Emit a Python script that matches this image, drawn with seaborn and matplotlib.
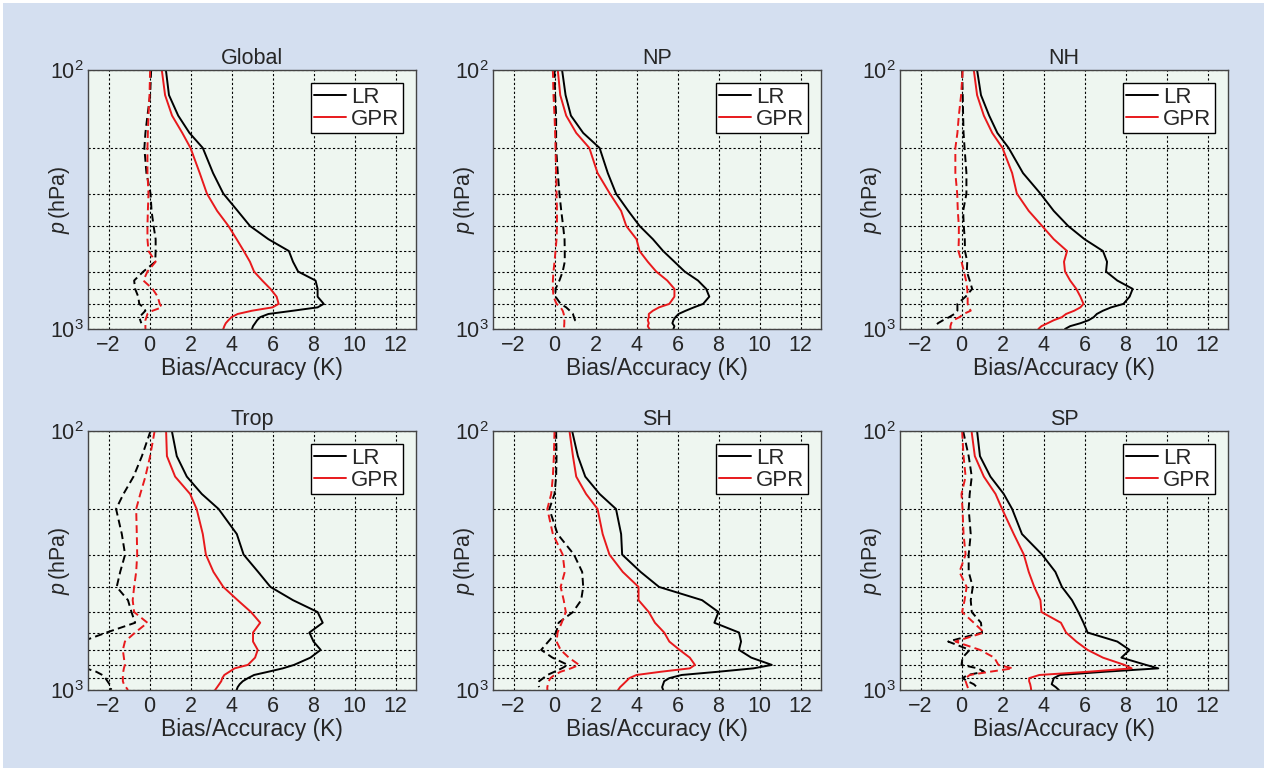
import numpy as np
import pandas as pd
import matplotlib
matplotlib.use("Agg")
import matplotlib.pyplot as plt
import seaborn as sns
from matplotlib.lines import Line2D
from matplotlib.patches import Rectangle
from matplotlib.ticker import FixedLocator, NullFormatter, LogFormatterSciNotation

nan = np.nan

# ---------------- data ----------------
pressure = [100, 125, 150, 175, 200, 250, 300, 350, 400, 450, 500, 550, 600,
            650, 700, 750, 800, 825, 850, 875, 900, 925, 950, 975, 1000]

panel_titles = ["Global", "NP", "NH", "Trop", "SH", "SP"]

global_lr_acc = [0.8, 0.95, 1.4, 1.95, 2.6, 3.1, 3.6, 4.3, 4.9, 5.8, 6.8, 7.0, 7.25,
                 8.1, 8.2, 8.2, 8.5, 8.2, 7.0, 5.8, 5.4, 5.25, 5.15, 5.05, 5.0]
global_gpr_acc = [0.6, 0.76, 1.1, 1.6, 2.0, 2.45, 2.8, 3.3, 3.85, 4.25, 4.6, 4.9, 5.1,
                  5.5, 5.9, 6.2, 6.3, 6.0, 5.0, 4.3, 4.0, 3.85, 3.72, 3.65, 3.6]
global_lr_bias = [0.08, 0.03, -0.1, -0.2, -0.25, -0.15, 0.05, 0.1, 0.2, 0.3, 0.3, 0.28, -0.3,
                  -0.75, -0.7, -0.55, -0.5, -0.3, -0.2, -0.35, -0.5, -0.45, -0.4, nan, nan]
global_gpr_bias = [0.03, 0.0, -0.05, -0.08, -0.1, -0.1, -0.05, -0.08, -0.1, -0.1, -0.05, 0.3, -0.1,
                   -0.3, 0.15, 0.4, 0.5, 0.6, 0.15, -0.1, -0.15, -0.2, -0.2, -0.2, -0.2]

np_lr_acc = [0.37, 0.54, 0.8, 1.4, 2.2, 2.6, 3.0, 3.6, 4.15, 4.8, 5.3, 5.85, 6.35,
             7.0, 7.4, 7.55, 7.25, 6.8, 6.4, 6.05, 5.9, 5.8, 5.75, 5.85, 5.8]
np_gpr_acc = [0.16, 0.28, 0.57, 1.06, 1.7, 2.1, 2.7, 3.25, 3.5, 4.0, 4.15, 4.55, 4.96,
              5.5, 5.85, 5.85, 5.6, 5.1, 4.8, 4.6, 4.6, 4.55, 4.6, 4.55, 4.63]
np_lr_bias = [0.0, 0.03, 0.08, 0.08, 0.08, 0.16, 0.24, 0.33, 0.42, 0.49, 0.5, 0.5, 0.4,
              0.24, 0.05, 0.05, 0.3, 0.57, 0.75, 0.9, 0.95, 1.0, 1.2, nan, nan]
np_gpr_bias = [-0.08, -0.05, 0.0, 0.03, 0.05, 0.08, 0.1, 0.12, 0.12, 0.1, 0.05, 0.0, -0.05,
               -0.08, -0.08, -0.05, 0.1, 0.3, 0.4, 0.45, 0.48, 0.48, 0.48, 0.47, 0.48]

nh_lr_acc = [0.76, 0.95, 1.35, 1.75, 2.3, 3.0, 3.85, 4.5, 5.2, 6.0, 6.9, 7.1, 7.05,
             7.6, 8.35, 8.2, 7.9, 7.3, 6.9, 6.6, 6.45, 6.2, 5.8, 5.3, 5.05]
nh_gpr_acc = [0.6, 0.76, 1.09, 1.5, 2.0, 2.47, 2.7, 3.28, 3.93, 4.5, 5.15, 5.0, 5.05,
              5.3, 5.6, 5.8, 5.95, 5.8, 5.5, 5.1, 4.9, 4.5, 4.2, 3.9, 3.75]
nh_lr_bias = [0.03, 0.06, 0.08, 0.1, 0.15, 0.24, 0.24, 0.08, 0.11, 0.16, 0.17, 0.28, 0.26,
              0.4, 0.52, 0.2, -0.2, -0.2, -0.2, -0.35, -0.6, -0.9, -1.15, -1.27, nan]
nh_gpr_bias = [0.06, -0.02, -0.13, -0.2, -0.3, -0.3, -0.21, -0.18, -0.13, -0.13, -0.15, 0.0, 0.12,
               0.22, 0.28, 0.3, 0.3, 0.36, 0.45, 0.1, -0.1, -0.4, -0.5, -0.54, -0.54]

trop_lr_acc = [1.09, 1.33, 1.82, 2.55, 3.37, 4.26, 4.59, 5.3, 5.9, 7.0, 8.2, 8.45, 7.8,
               8.0, 8.35, 7.85, 7.05, 6.5, 5.8, 5.1, 4.8, 4.55, 4.4, 4.3, 4.25]
trop_gpr_acc = [0.81, 0.85, 1.25, 1.98, 2.3, 2.6, 2.75, 3.12, 3.6, 4.3, 4.95, 5.4, 5.05,
                5.05, 5.28, 5.15, 4.8, 4.15, 3.9, 3.65, 3.55, 3.5, 3.4, 3.3, 3.2]
trop_lr_bias = [0.05, -0.37, -0.78, -1.27, -1.63, -1.35, -1.19, -1.43, -1.6, -1.05, -0.88, -0.7, -2.1,
                -3.3, -4.5, -4.5, -3.8, -3.1, -2.6, -2.3, -2.15, -2.05, -1.95, -1.85, -1.9]
trop_gpr_bias = [0.25, 0.03, -0.2, -0.45, -0.65, -0.62, -0.6, -0.65, -0.75, -0.82, -0.75, -0.1, -0.7,
                 -1.2, -1.3, -1.25, -1.2, -1.25, -1.28, -1.3, -1.3, -1.3, -1.25, -1.15, -1.05]

sh_lr_acc = [0.86, 1.14, 1.5, 2.2, 3.0, 3.25, 3.3, 4.2, 5.1, 7.2, 8.0, 7.8, 9.0,
             9.1, 9.0, 9.6, 10.6, 9.7, 8.0, 6.2, 5.6, 5.35, 5.3, 5.25, 5.3]
sh_gpr_acc = [0.73, 0.9, 1.06, 1.54, 2.1, 2.35, 2.68, 3.33, 4.1, 4.1, 4.6, 4.9, 5.35,
              5.6, 6.1, 6.6, 6.85, 6.6, 5.2, 4.0, 3.65, 3.5, 3.35, 3.2, 3.1]
sh_lr_bias = [0.08, 0.1, 0.08, 0.0, -0.25, 0.15, 0.95, 1.35, 1.4, 1.3, 0.9, 0.2, 0.08,
              -0.3, -0.65, -0.1, 0.65, 0.35, 0.0, -0.35, -0.55, -0.75, -0.8, -0.75, nan]
sh_gpr_bias = [0.0, -0.03, -0.08, -0.16, -0.35, -0.08, 0.4, 0.5, 0.3, 0.45, 0.55, 0.35, 0.15,
               0.1, 0.3, 0.7, 1.2, 0.8, 0.3, 0.0, -0.2, -0.28, -0.32, -0.35, -0.35]

sp_lr_acc = [0.76, 0.9, 1.41, 2.06, 2.47, 2.95, 3.93, 4.58, 4.9, 5.39, 5.7, 5.95, 6.15,
             7.6, 8.2, 7.8, 9.0, 9.6, 7.0, 4.8, 4.5, 4.45, 4.4, 4.6, 4.75]
sp_gpr_acc = [0.49, 0.65, 1.09, 1.66, 1.98, 2.55, 3.04, 3.28, 3.55, 3.85, 3.9, 4.85, 5.1,
              5.6, 6.15, 6.9, 7.95, 8.3, 6.2, 3.8, 3.3, 3.3, 3.35, 3.38, 3.4]
sp_lr_bias = [0.08, 0.35, 0.5, 0.4, 0.35, 0.45, 0.35, 0.35, 0.55, 0.45, 0.5, 0.95, 1.0,
              -0.65, 0.4, 0.05, 0.0, 0.8, 1.1, 0.3, 0.05, 0.3, 0.6, 0.75, nan]
sp_gpr_bias = [0.03, 0.1, 0.2, 0.0, 0.05, 0.1, 0.2, -0.1, 0.25, 0.15, 0.03, 0.6, 1.1,
               -0.3, 0.9, 1.6, 1.8, 2.5, 1.4, 0.4, 0.2, 0.2, 0.25, 0.3, 0.35]

panels = {
    "Global": (global_lr_acc, global_gpr_acc, global_lr_bias, global_gpr_bias),
    "NP": (np_lr_acc, np_gpr_acc, np_lr_bias, np_gpr_bias),
    "NH": (nh_lr_acc, nh_gpr_acc, nh_lr_bias, nh_gpr_bias),
    "Trop": (trop_lr_acc, trop_gpr_acc, trop_lr_bias, trop_gpr_bias),
    "SH": (sh_lr_acc, sh_gpr_acc, sh_lr_bias, sh_gpr_bias),
    "SP": (sp_lr_acc, sp_gpr_acc, sp_lr_bias, sp_gpr_bias),
}

x_ticks = [-2, 0, 2, 4, 6, 8, 10, 12]
models = ["LR", "GPR"]

# ---------------- style ----------------
sns.set_theme(style="white")
plt.rcParams["font.family"] = ["Liberation Sans", "DejaVu Sans"]
plt.rcParams["mathtext.fontset"] = "custom"
plt.rcParams["mathtext.rm"] = "Liberation Sans"
plt.rcParams["mathtext.it"] = "Liberation Sans:italic"
plt.rcParams["axes.unicode_minus"] = True

FIG_BG = "#d4dff0"
AX_BG = "#eef6f0"
FS_TICK = 15.5
FS_LABEL = 16.5
FS_YLABEL = 15.5
FS_TITLE = 15.5
FS_LEG = 16

fig = plt.figure(figsize=(12.67, 7.71), dpi=100, facecolor="white")
fig.patches.append(Rectangle((3 / 1267, 3 / 771), 1 - 6 / 1267, 1 - 6 / 771,
                             transform=fig.transFigure, facecolor=FIG_BG,
                             edgecolor="none", zorder=-10))

W, H = 1267, 771
lefts = [88, 493, 900]
tops = [70, 431]
aw, ah = 328, 259

palette = {"LR": "black", "GPR": "#e8191c"}
dashes = {"acc": "", "bias": (4, 2.2)}

for i, title in enumerate(panel_titles):
    r, c = divmod(i, 3)
    l = lefts[c] / W
    b = 1 - (tops[r] + ah) / H
    ax = fig.add_axes([l, b, aw / W, ah / H])
    ax.set_facecolor(AX_BG)
    ax.set_zorder(1)

    lr_acc, gpr_acc, lr_bias, gpr_bias = panels[title]
    frames = []
    for model, kind, vals in [("LR", "acc", lr_acc), ("GPR", "acc", gpr_acc),
                              ("LR", "bias", lr_bias), ("GPR", "bias", gpr_bias)]:
        frames.append(pd.DataFrame({"p": pressure, "value": vals,
                                    "model": model, "kind": kind,
                                    "series": model + "_" + kind}))
    df = pd.concat(frames, ignore_index=True).dropna()

    sns.lineplot(data=df, x="value", y="p", hue="model", style="kind",
                 units="series", estimator=None, orient="y", sort=True,
                 palette=palette, dashes=dashes, hue_order=models,
                 linewidth=1.4, legend=False, ax=ax)

    ax.set_yscale("log")
    ax.set_ylim(1000, 100)
    ax.set_xlim(-3, 13)
    ax.set_xticks(x_ticks)
    ax.yaxis.set_major_locator(FixedLocator([100, 1000]))
    ax.yaxis.set_major_formatter(LogFormatterSciNotation())
    ax.yaxis.set_minor_locator(FixedLocator([200, 300, 400, 500, 600, 700, 800, 900]))
    ax.yaxis.set_minor_formatter(NullFormatter())

    ax.grid(True, which="major", axis="x", linestyle=(0, (2, 2)), color="black", linewidth=0.8)
    ax.grid(True, which="both", axis="y", linestyle=(0, (2, 2)), color="black", linewidth=0.8)
    ax.set_axisbelow(True)

    ax.tick_params(axis="both", which="both", direction="in", length=3,
                   labelsize=FS_TICK, color="#333333")
    ax.tick_params(axis="x", pad=4)
    ax.tick_params(axis="y", pad=3)
    ax.tick_params(axis="y", which="minor", length=0)
    for s in ax.spines.values():
        s.set_color("#444444")
        s.set_linewidth(1.0)

    ax.set_title(title, fontsize=FS_TITLE, pad=4)
    ax.set_xlabel("Bias/Accuracy (K)", fontsize=FS_LABEL, labelpad=1)
    ax.set_ylabel(r"$p\,$(hPa)", fontsize=FS_YLABEL, va="center")
    ax.yaxis.set_label_coords(-0.088, 0.5)

    handles = [Line2D([], [], color=palette[m], lw=1.4) for m in models]
    leg = ax.legend(handles, models, loc="upper right", fontsize=FS_LEG,
                    frameon=True, fancybox=False, edgecolor="black",
                    framealpha=1, handlelength=1.4, handletextpad=0.25,
                    borderpad=0.15, labelspacing=0.05, borderaxespad=0.6)
    leg.get_frame().set_linewidth(1.0)

fig.savefig("out.png", dpi=100, facecolor=fig.get_facecolor())
